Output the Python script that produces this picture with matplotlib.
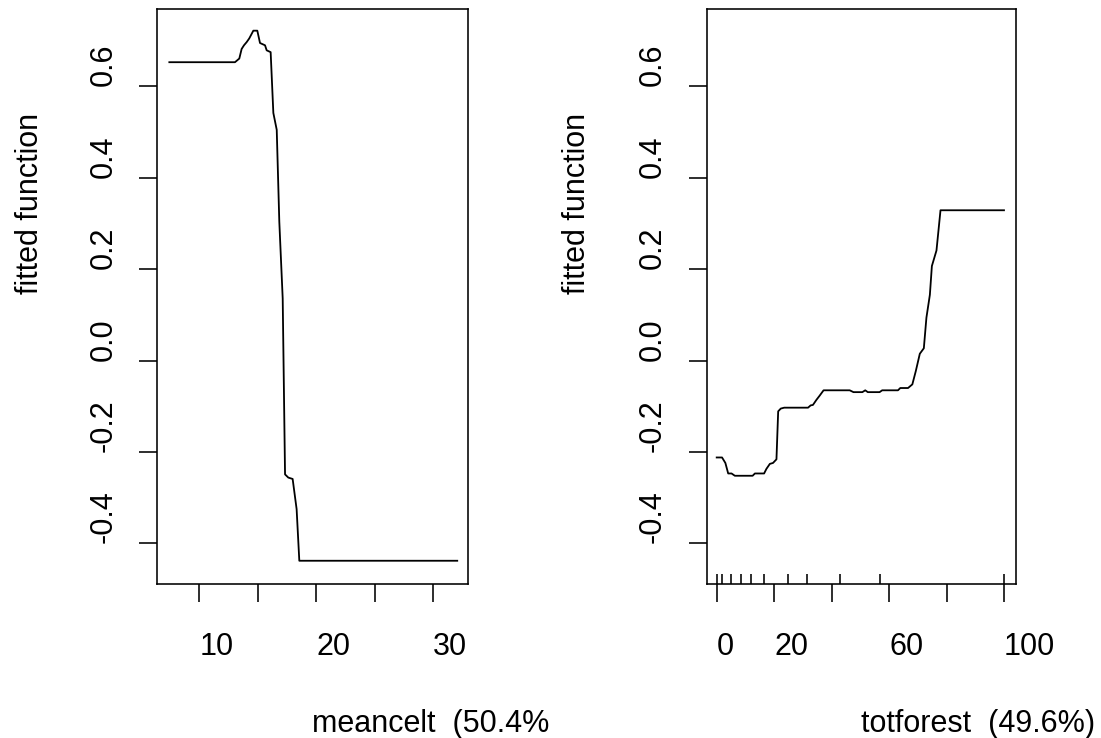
import matplotlib
matplotlib.use("Agg")
import matplotlib.pyplot as plt
from matplotlib.transforms import Bbox, TransformedBbox

# partial dependence values
meancelt_x = [7.44, 13.05, 13.42, 13.62, 13.82, 14.05, 14.27, 14.62, 14.96, 15.19,
              15.62, 15.76, 16.10, 16.33, 16.62, 16.84, 17.13, 17.33, 17.61, 17.98,
              18.32, 18.55, 32.05]
meancelt_y = [0.653, 0.653, 0.661, 0.682, 0.690, 0.697, 0.705, 0.722, 0.722, 0.695,
              0.690, 0.679, 0.675, 0.542, 0.505, 0.304, 0.136, -0.249, -0.256, -0.259,
              -0.325, -0.438, -0.438]

totforest_x = [0, 1.86, 3.02, 4.0, 5.16, 6.32, 12.5, 13.3, 16.5, 17.3, 18.5, 19.6,
               20.8, 21.4, 22.3, 23.5, 31.8, 32.7, 33.5, 34.7, 35.8, 37.2, 46.3,
               47.6, 50.7, 51.7, 52.6, 56.7, 57.6, 63.1, 63.9, 66.6, 68.1, 69.3,
               70.7, 72.1, 73.0, 74.2, 74.9, 76.5, 77.9, 100]
totforest_y = [-0.212, -0.212, -0.224, -0.247, -0.247, -0.252, -0.252, -0.247,
               -0.247, -0.237, -0.226, -0.224, -0.216, -0.111, -0.105, -0.103,
               -0.103, -0.098, -0.097, -0.086, -0.077, -0.065, -0.065, -0.069,
               -0.069, -0.065, -0.069, -0.069, -0.065, -0.065, -0.060, -0.060,
               -0.052, -0.023, 0.015, 0.027, 0.094, 0.144, 0.207, 0.241, 0.329,
               0.329]
# deciles of totforest (rug)
totforest_rug = [0, 1.84, 4.87, 8.35, 11.8, 16.6, 24.9, 31.3, 43.0, 56.9, 100]

y_ticks = [-0.4, -0.2, 0.0, 0.2, 0.4, 0.6]
y_labels = ["-0.4", "-0.2", "0.0", "0.2", "0.4", "0.6"]
meancelt_ticks = [10, 15, 20, 25, 30]
meancelt_labels = ["10", "", "20", "", "30"]
totforest_ticks = [0, 20, 40, 60, 80, 100]
totforest_labels = ["0", "20", "", "60", "", "100"]

plt.rcParams['font.family'] = ['Liberation Sans', 'DejaVu Sans']
FS = 22
LW = 1.15

W, H = 1101, 738
fig = plt.figure(figsize=(W / 100, H / 100), dpi=100)

top, bot = 9.2, 583.6
ax1 = fig.add_axes([157 / W, 1 - bot / H, (468 - 157) / W, (bot - top) / H])
ax2 = fig.add_axes([706.5 / W, 1 - bot / H, (1016 - 706.5) / W, (bot - top) / H])


def style(ax, xt, xl, ylab_x):
    for s in ax.spines.values():
        s.set_linewidth(LW)
        s.set_color('black')
    ax.set_ylim(-0.488, 0.769)
    ax.set_yticks(y_ticks)
    ax.set_yticklabels(y_labels, rotation=90, va='bottom', ha='right')
    ax.set_xticks(xt)
    ax.set_xticklabels(xl, ha='left')
    ax.tick_params(axis='x', length=13.3, width=LW, pad=21.4, labelsize=FS)
    ax.tick_params(axis='y', length=13.0, width=LW, pad=14.7, labelsize=FS)
    ax.text(ylab_x, 0.6626, 'fitted function',
            transform=ax.transAxes, rotation=90, rotation_mode='anchor',
            ha='center', va='baseline', fontsize=FS)


ax1.plot(meancelt_x, meancelt_y, color='black', lw=LW + 0.15)
ax1.set_xlim(6.385, 32.97)
style(ax1, meancelt_ticks, meancelt_labels, -0.3826)

ax2.plot(totforest_x, totforest_y, color='black', lw=LW + 0.15)
ax2.set_xlim(-3.55, 104.18)
ax2.vlines(totforest_rug, 0, 10 / (bot - top), transform=ax2.get_xaxis_transform(),
           color='black', lw=LW)
style(ax2, totforest_ticks, totforest_labels, -0.3926)

# x labels start at the middle of each plot; the left one is cut at the panel edge
t1 = ax1.text(0.5, -0.2584, 'meancelt  (50.4%)', transform=ax1.transAxes,
              ha='left', va='baseline', fontsize=FS, clip_on=True)
t1.set_clip_box(TransformedBbox(Bbox([[0, 0], [548.5 / W, 1]]), fig.transFigure))
ax2.text(0.5, -0.2584, 'totforest  (49.6%)', transform=ax2.transAxes,
         ha='left', va='baseline', fontsize=FS)

fig.savefig('out.png', dpi=100)
